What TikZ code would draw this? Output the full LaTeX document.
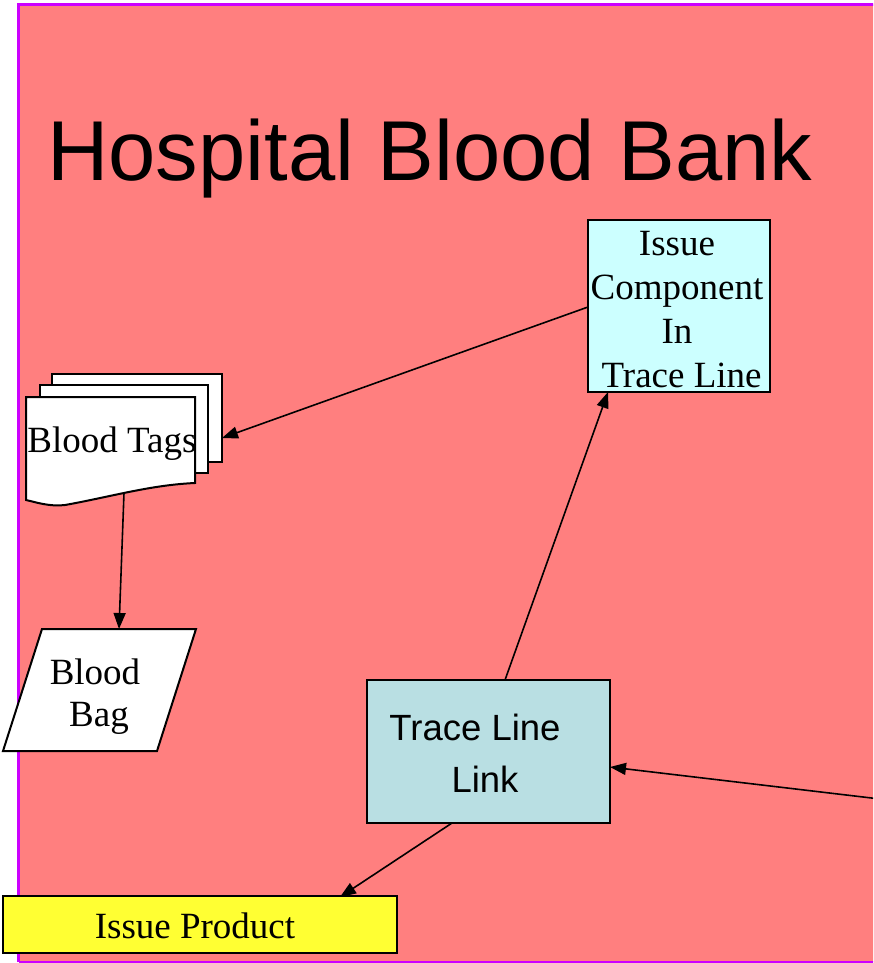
\documentclass[tikz,border=0pt]{standalone}
\usepackage{fontspec}
\setmainfont{Liberation Serif}
\newfontfamily\arialfont{Liberation Sans}
\usetikzlibrary{arrows.meta,calc}
\definecolor{bgpink}{RGB}{255,127,127}
\definecolor{bordpurple}{RGB}{204,0,255}
\definecolor{cyanbox}{RGB}{204,255,255}
\definecolor{linkbox}{RGB}{185,223,227}
\definecolor{prodyellow}{RGB}{255,255,51}
\tikzset{
  boxstyle/.style={draw=black,line width=2pt,inner sep=0pt,outer sep=0pt},
  serifbig/.style={font=\fontsize{37}{44}\selectfont},
  sansbig/.style={font=\arialfont\fontsize{36.5}{44}\selectfont},
  arr/.style={draw=black,line width=1.6pt,-{Triangle[length=16pt,width=12pt]}},
  docshape/.style={draw=black,line width=2pt,fill=white}
}
\begin{document}
\begin{tikzpicture}[x=1pt,y=-1pt]
\useasboundingbox (0,0) rectangle (873,963);
\clip (0,0) rectangle (873,963);
% background panel
\fill[bgpink] (18.5,4.5) rectangle (900,962);
\draw[bordpurple,line width=3pt] (18.5,962) -- (18.5,4.5) -- (900,4.5);
\draw[bordpurple,line width=1.5pt] (18.5,962) -- (900,962);
% title
\node[anchor=base west,inner sep=0pt,font=\arialfont\fontsize{85}{100}\selectfont] (title) at (47,180) {Hospital Blood Bank};
% Issue Component In Trace Line
\node[boxstyle,fill=cyanbox,minimum width=182pt,minimum height=172pt] (icomp) at (679,306) {};
\node[serifbig,align=center,inner sep=0pt] (icomptxt) at (677,310) {Issue\\Component\\In\\\ Trace Line};
% Blood Tags (stacked documents)
\node[boxstyle,fill=white,minimum width=170pt,minimum height=88pt] (tagsback) at (137,418) {};
\node[boxstyle,fill=white,minimum width=168pt,minimum height=88pt] (tagsmid) at (124,429) {};
\draw[docshape] (26,397) -- (195,397) -- (195,483)
  .. controls (150,485) and (110,497) .. (65,505)
  .. controls (50,507) and (35,502) .. (26,500) -- cycle;
\node[serifbig,inner sep=0pt] (tags) at (112,444) {Blood Tags};
\coordinate (tagsbot) at (124,493);
\coordinate (tagsin) at (222,438);
% Blood Bag (parallelogram)
\coordinate (bagtl) at (42,629);
\coordinate (bagtr) at (196,629);
\coordinate (bagbr) at (157,751);
\coordinate (bagbl) at (3,751);
\draw[docshape] (bagtl) -- (bagtr) -- (bagbr) -- (bagbl) -- cycle;
\node[serifbig,inner sep=0pt] (bag1) at (95,672) {Blood};
\node[serifbig,inner sep=0pt] (bag2) at (99,718) {Bag};
\coordinate (bagtop) at (119,629);
% Trace Line Link
\node[boxstyle,fill=linkbox,minimum width=243pt,minimum height=143pt] (link) at (488.5,751.5) {};
\node[sansbig,inner sep=0pt] (linkt1) at (475,727) {Trace Line};
\node[sansbig,inner sep=0pt] (linkt2) at (485,779) {Link};
% Issue Product
\node[boxstyle,fill=prodyellow,minimum width=394pt,minimum height=57pt] (prod) at (200,924.5) {};
\node[serifbig,inner sep=0pt] (prodtxt) at (195,926) {Issue Product};
% connectors
\coordinate (icompin) at (588,307);
\coordinate (icompbot) at (608,392);
\coordinate (linktop) at (505,680);
\coordinate (linkin) at (610,767);
\coordinate (linkbot) at (452,823);
\coordinate (prodin) at (340,897);
\coordinate (offright) at (880,799);
\draw[arr] (icompin) -- (tagsin);
\draw[arr] (tagsbot) -- (bagtop);
\draw[arr] (linktop) -- (icompbot);
\draw[arr] (offright) -- (linkin);
\draw[arr] (linkbot) -- (prodin);
\end{tikzpicture}
\end{document}
